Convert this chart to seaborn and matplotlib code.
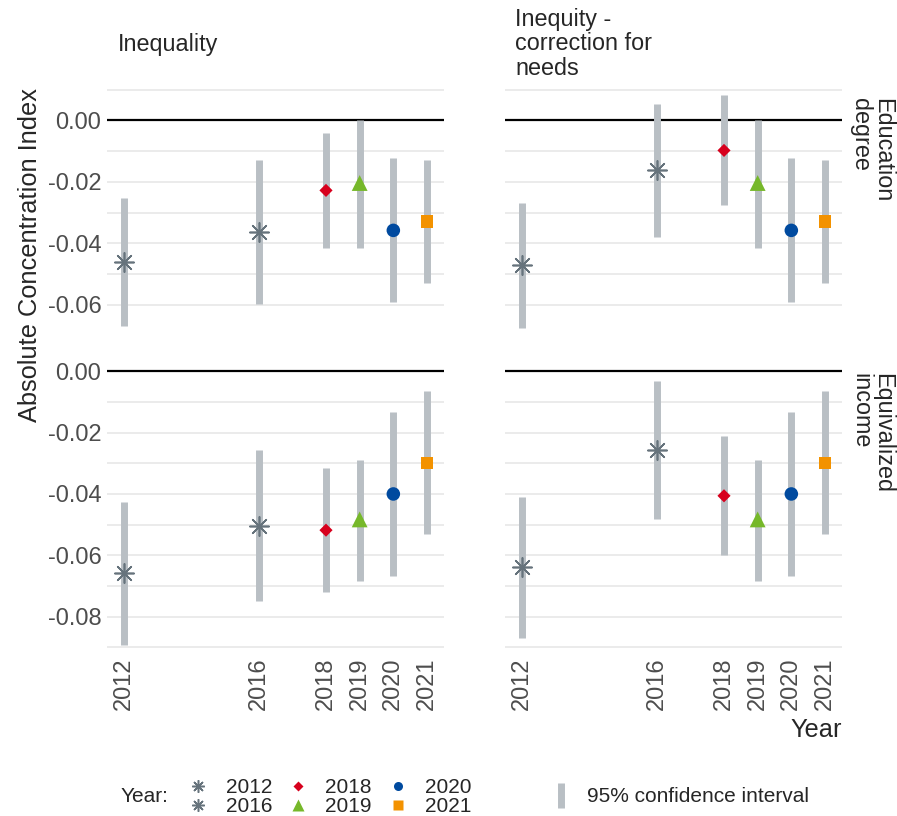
import pandas as pd
import seaborn as sns
import matplotlib.pyplot as plt
from matplotlib.lines import Line2D

# Absolute concentration index by year, with 95% confidence intervals,
# for two measures (inequality / inequity) and two socioeconomic dimensions.

years = [2012, 2016, 2018, 2019, 2020, 2021]
measures = ["Inequality", "Inequity -\ncorrection for\nneeds"]
dimensions = ["Education\ndegree", "Equivalized\nincome"]

edu_inequality_est = [-0.0462, -0.0362, -0.0228, -0.0204, -0.0358, -0.0329]
edu_inequality_lo = [-0.0668, -0.0597, -0.0416, -0.0416, -0.0592, -0.0529]
edu_inequality_hi = [-0.0254, -0.0130, -0.0041, 0.0000, -0.0123, -0.0130]

edu_inequity_est = [-0.0472, -0.0163, -0.0098, -0.0204, -0.0358, -0.0329]
edu_inequity_lo = [-0.0675, -0.0380, -0.0277, -0.0416, -0.0592, -0.0529]
edu_inequity_hi = [-0.0268, 0.0052, 0.0081, 0.0000, -0.0123, -0.0130]

inc_inequality_est = [-0.0659, -0.0504, -0.0518, -0.0483, -0.0400, -0.0299]
inc_inequality_lo = [-0.0892, -0.0749, -0.0721, -0.0683, -0.0668, -0.0532]
inc_inequality_hi = [-0.0426, -0.0257, -0.0314, -0.0290, -0.0132, -0.0065]

inc_inequity_est = [-0.0639, -0.0257, -0.0406, -0.0483, -0.0400, -0.0299]
inc_inequity_lo = [-0.0869, -0.0480, -0.0599, -0.0683, -0.0668, -0.0532]
inc_inequity_hi = [-0.0409, -0.0032, -0.0212, -0.0290, -0.0132, -0.0065]

year_colors = {2012: "#66737c", 2016: "#66737c", 2018: "#d7001d",
               2019: "#76b82a", 2020: "#004a9f", 2021: "#f39200"}
year_markers = {2012: (8, 2, 0), 2016: (8, 2, 0), 2018: "D",
                2019: "^", 2020: "o", 2021: "s"}
year_sizes = {2012: 190, 2016: 190, 2018: 45, 2019: 130, 2020: 95, 2021: 85}
ci_color = "#b9bfc4"

panels = [
    (0, 0, edu_inequality_est, edu_inequality_lo, edu_inequality_hi),
    (0, 1, edu_inequity_est, edu_inequity_lo, edu_inequity_hi),
    (1, 0, inc_inequality_est, inc_inequality_lo, inc_inequality_hi),
    (1, 1, inc_inequity_est, inc_inequity_lo, inc_inequity_hi),
]

frames = []
for r, c, est, lo, hi in panels:
    frames.append(pd.DataFrame({"row": r, "col": c, "Year": years,
                                "est": est, "lo": lo, "hi": hi}))
df = pd.concat(frames, ignore_index=True)

sns.set_theme(style="white")
plt.rcParams["font.family"] = ["Liberation Sans", "DejaVu Sans"]

W, H = 897, 816
fig = plt.figure(figsize=(W / 100, H / 100), dpi=100)

col_px = [(107, 444), (505, 842)]
row_px = [(84, 334), (359, 655)]
row_ylim = [(-0.0695, 0.0118), (-0.0925, 0.004)]
row_ticks = [[0.0, -0.02, -0.04, -0.06], [0.0, -0.02, -0.04, -0.06, -0.08]]
row_minor = [[0.01, -0.01, -0.03, -0.05], [-0.01, -0.03, -0.05, -0.07, -0.09]]

tick_color = "#4d4d4d"
fs_tick = 17
fs_title = 18.3
fs_strip = 16.8

for r in range(2):
    for c in range(2):
        x0, x1 = col_px[c]
        y0, y1 = row_px[r]
        ax = fig.add_axes([x0 / W, 1 - y1 / H, (x1 - x0) / W, (y1 - y0) / H])
        sub = df[(df["row"] == r) & (df["col"] == c)]

        ax.vlines(sub["Year"], sub["lo"], sub["hi"], color=ci_color, lw=5, zorder=2)
        ax.axhline(0, color="black", lw=1.6, zorder=1)
        for yr in years:
            pt = sub[sub["Year"] == yr]
            if isinstance(year_markers[yr], tuple):
                sns.scatterplot(data=pt, x="Year", y="est", ax=ax, marker=year_markers[yr],
                                color=year_colors[yr], s=year_sizes[yr], linewidth=1.2,
                                zorder=3, legend=False)
            else:
                sns.scatterplot(data=pt, x="Year", y="est", ax=ax, marker=year_markers[yr],
                                color=year_colors[yr], s=year_sizes[yr], linewidth=0,
                                edgecolor="none", zorder=3, legend=False)

        ax.set_yticks(row_ticks[r])
        ax.set_yticks(row_minor[r], minor=True)
        ax.set_xlim(2011.495, 2021.505)
        ax.set_ylim(*row_ylim[r])
        ax.grid(True, axis="y", which="both", color="#e6e6e6", lw=1.1, zorder=0)
        ax.grid(False, axis="x")
        ax.set_axisbelow(True)
        for s in ax.spines.values():
            s.set_visible(False)
        ax.set_xlabel("")
        ax.set_ylabel("")
        ax.tick_params(axis="both", which="both", length=0, colors=tick_color, labelsize=fs_tick)
        ax.tick_params(axis="y", pad=4)
        ax.tick_params(axis="x", pad=2)

        if r == 1:
            ax.set_xticks(years)
            ax.set_xticklabels([str(y) for y in years], rotation=90, va="top")
            ax.set_xlim(2011.495, 2021.505)
        else:
            ax.set_xticks([])
        if c == 0:
            ax.set_yticklabels([f"{t:.2f}" for t in row_ticks[r]])
        else:
            ax.set_yticklabels([])

# facet strips
fig.text(118 / W, 1 - 44 / H, measures[0], fontsize=fs_strip, ha="left", va="center",
         linespacing=1.1)
fig.text(515 / W, 1 - 44 / H, measures[1], fontsize=fs_strip, ha="left", va="center",
         linespacing=1.1)
fig.text(849 / W, 1 - 98 / H, dimensions[0], fontsize=fs_strip, rotation=-90, ha="left",
         va="top", linespacing=0.95)
fig.text(849 / W, 1 - 373 / H, dimensions[1], fontsize=fs_strip, rotation=-90, ha="left",
         va="top", linespacing=0.95)

fig.text(30 / W, 1 - 255 / H, "Absolute Concentration Index", fontsize=fs_title, rotation=90,
         ha="center", va="center")
fig.text(842 / W, 1 - 730 / H, "Year", fontsize=fs_title, ha="right", va="center")

# legends
handles = []
for yr in years:
    m = year_markers[yr]
    if isinstance(m, tuple):
        handles.append(Line2D([], [], ls="none", marker=m, color=year_colors[yr], ms=9, mew=1.1))
    else:
        handles.append(Line2D([], [], ls="none", marker=m, color=year_colors[yr], mec="none",
                              ms={"D": 5, "^": 8, "o": 6.5, "s": 6.5}[m]))
leg_size = 15
leg_prop = {"size": leg_size}
fig.text(121 / W, 1 - 797 / H, "Year:", ha="left", va="center", fontsize=leg_size)
fig.legend(handles, [str(y) for y in years], ncol=3, loc="center left",
           bbox_to_anchor=(188 / W, 1 - 797 / H), frameon=False, prop=leg_prop,
           handlelength=1.0, handletextpad=0.8, columnspacing=0.75,
           labelspacing=0.0, borderpad=0, borderaxespad=0)
ci_handle = Line2D([], [], ls="none", marker="|", color=ci_color, ms=18, mew=5)
fig.legend([ci_handle], ["95% confidence interval"], loc="center left",
           bbox_to_anchor=(551 / W, 1 - 797 / H), frameon=False, prop=leg_prop,
           handlelength=1.0, handletextpad=0.75, borderpad=0, borderaxespad=0)

fig.savefig("out.png", dpi=100)
